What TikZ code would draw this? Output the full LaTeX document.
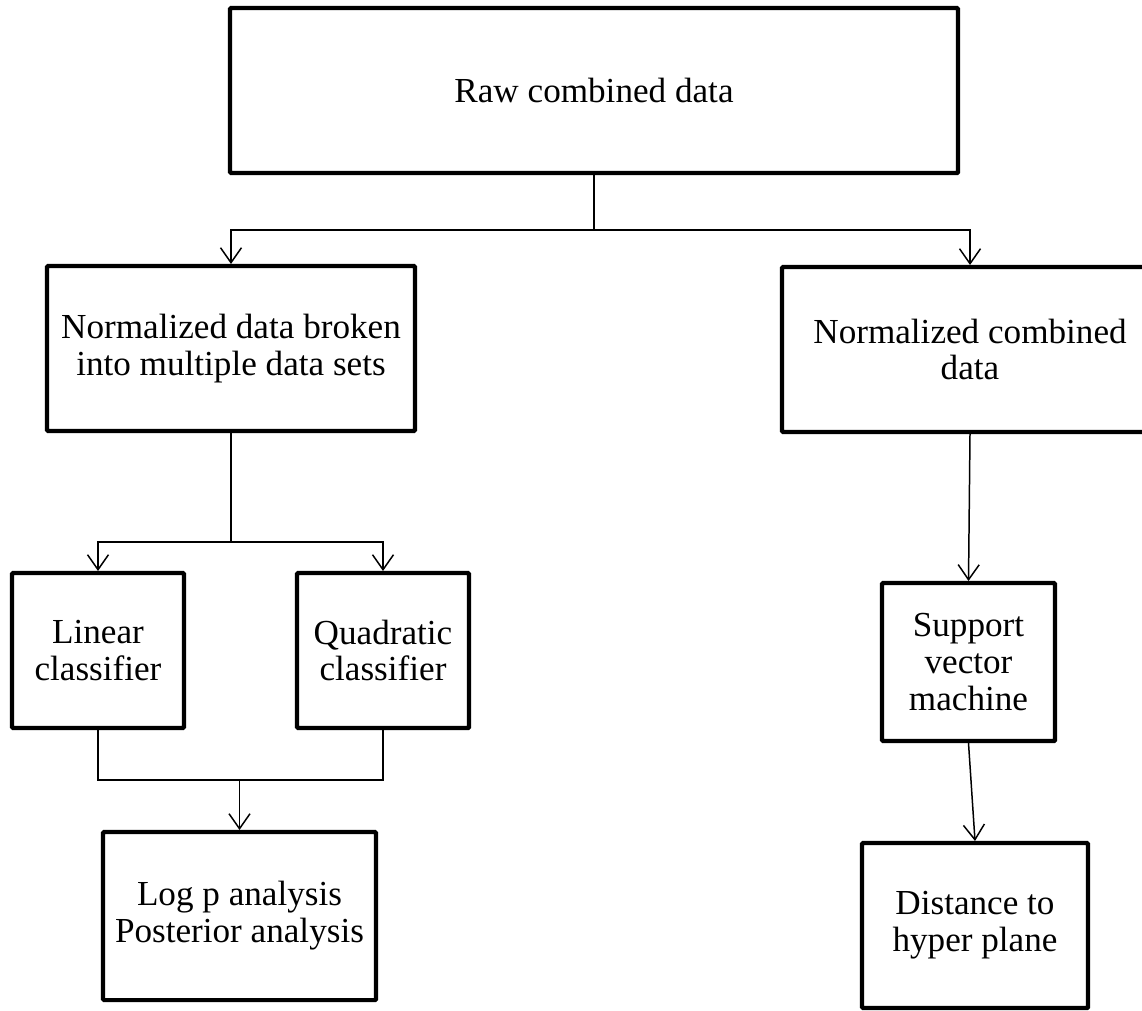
\documentclass[tikz,border=0pt]{standalone}
\usepackage{fontspec}
\setmainfont{Liberation Serif}
\usetikzlibrary{arrows.meta}

\tikzset{
  box/.style={draw, line width=2.3pt, rounded corners=0.5pt, align=center,
    font=\fontsize{20}{21}\selectfont, inner sep=2pt},
  link/.style={line width=0.85pt},
  arr/.style={link, -{Straight Barb[length=3mm,width=4.2mm,line width=0.85pt]}}
}

\begin{document}
\begin{tikzpicture}
\useasboundingbox (0,0) rectangle (22.84,-20.2);
% boxes
\node[box, minimum width=14.56cm, minimum height=3.3cm] (raw) at (11.88,-1.81) {Raw combined data};
\node[box, minimum width=7.36cm, minimum height=3.3cm] (norm) at (4.62,-6.97) {Normalized data broken\\into multiple data sets};
\node[box, minimum width=7.52cm, minimum height=3.3cm] (comb) at (19.4,-6.99) {Normalized combined\\data};
\node[box, minimum width=3.44cm, minimum height=3.1cm] (lin) at (1.96,-13.01) {Linear\\classifier};
\node[box, minimum width=3.44cm, minimum height=3.1cm] (quad) at (7.66,-13.01) {Quadratic\\classifier};
\node[box, minimum width=5.46cm, minimum height=3.36cm] (logp) at (4.79,-18.32) {Log p analysis\\Posterior analysis};
\node[box, minimum width=3.46cm, minimum height=3.16cm] (svm) at (19.37,-13.24) {Support\\vector\\machine};
\node[box, minimum width=4.52cm, minimum height=3.3cm] (dist) at (19.5,-18.51) {Distance to\\hyper plane};
% connectors
\draw[link] (raw.south) -- ++(0,-1.1) coordinate (split1);
\draw[arr] (split1) -| (norm.north);
\draw[arr] (split1) -| (comb.north);
\draw[link] (norm.south) -- ++(0,-2.18) coordinate (split2);
\draw[arr] (split2) -| (lin.north);
\draw[arr] (split2) -| (quad.north);
\draw[link] (lin.south) -- ++(0,-1) coordinate (join) -| (quad.south);
\draw[arr] (join -| logp.north) -- (logp.north);
\draw[arr] (comb.south) -- (svm.north);
\draw[arr] (svm.south) -- (dist.north);
\end{tikzpicture}
\end{document}
